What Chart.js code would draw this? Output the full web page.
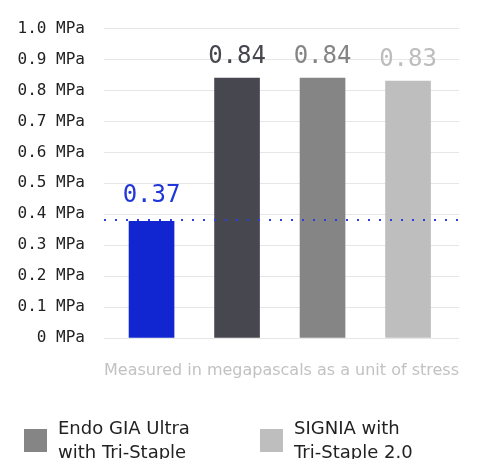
<!DOCTYPE html>
<html>
<head>
    <title>Staple line strength</title>
    <script src="https://cdn.jsdelivr.net/npm/chart.js"></script>
    <style>
        body { margin: 0; background: #fff; }
        #wrap { position: relative; width: 481px; height: 459px; overflow: hidden; }
        #legend { position: absolute; left: 0; top: 416px; width: 481px; }
        .item { position: absolute; top: 0; font-family: "DejaVu Sans", sans-serif; font-size: 18px; line-height: 24px; color: #222; }
        .item .box { position: absolute; left: 0; top: 13px; width: 23px; height: 23px; }
        .item .txt { position: absolute; left: 34px; top: 0; white-space: nowrap; }
    </style>
    <script>
        // bar values (MPa) and the labels printed above them
        const bars = [0, 1, 2, 3];
        const values = [0.377, 0.84, 0.84, 0.83];
        const valueLabels = ['0.37', '0.84', '0.84', '0.83'];
        const barColors = ['#1126d0', '#47474f', '#858585', '#bebebe'];
        const labelColors = ['#1f36d8', '#46464e', '#848484', '#bdbdbd'];
        const yTicks = [0, 0.1, 0.2, 0.3, 0.4, 0.5, 0.6, 0.7, 0.8, 0.9, 1.0];
        const threshold = 0.38;
        const caption = 'Measured in megapascals as a unit of stress';

        const legendNames = [['Endo GIA Ultra', 'with Tri-Staple'], ['SIGNIA with', 'Tri-Staple 2.0']];
        const legendColors = ['#858585', '#bebebe'];

        const extras = {
            id: 'extras',
            afterDatasetsDraw(chart) {
                const ctx = chart.ctx;
                const area = chart.chartArea;
                const y = chart.scales.y.getPixelForValue(threshold);
                ctx.save();
                ctx.strokeStyle = '#2a3fe0';
                ctx.lineWidth = 2;
                ctx.setLineDash([2, 9]);
                ctx.beginPath();
                ctx.moveTo(area.left, Math.round(y));
                ctx.lineTo(area.right + 4, Math.round(y));
                ctx.stroke();
                ctx.setLineDash([]);

                const meta = chart.getDatasetMeta(0);
                ctx.font = '24px "DejaVu Sans Mono"';
                ctx.textAlign = 'center';
                ctx.textBaseline = 'bottom';
                meta.data.forEach((bar, i) => {
                    const gap = i === 0 ? 14 : 9;
                    ctx.fillStyle = labelColors[i];
                    ctx.fillText(valueLabels[i], bar.x, bar.y - gap);
                });
                ctx.restore();
            }
        };

        document.addEventListener('DOMContentLoaded', function() {
            const ctx = document.getElementById('chart').getContext('2d');
            new Chart(ctx, {
                type: 'bar',
                data: {
                    datasets: [{
                        data: bars.map(i => ({ x: i, y: values[i] })),
                        backgroundColor: barColors,
                        barThickness: 45
                    }]
                },
                options: {
                    responsive: false,
                    animation: false,
                    layout: { padding: { top: 21, right: 22, bottom: 0, left: 0 } },
                    plugins: { legend: { display: false }, tooltip: { enabled: false } },
                    scales: {
                        x: {
                            type: 'linear',
                            offset: false,
                            min: -0.556,
                            max: 3.596,
                            grid: { display: false, offset: false },
                            border: { display: false },
                            ticks: { display: false },
                            title: {
                                display: true,
                                text: caption,
                                color: '#c2c2c2',
                                font: { family: 'DejaVu Sans', size: 16 },
                                padding: { top: 0, bottom: 79 }
                            },
                            afterFit(scale) { scale.height = 121; }
                        },
                        y: {
                            min: 0,
                            max: 1,
                            afterBuildTicks(scale) { scale.ticks = yTicks.map(v => ({ value: v })); },
                            grid: { color: '#e6e6e6', drawTicks: false },
                            border: { display: false },
                            ticks: {
                                padding: 19,
                                color: '#222',
                                font: { family: 'DejaVu Sans Mono', size: 16 },
                                callback: v => (v === 0 ? '0' : v.toFixed(1)) + ' MPa'
                            },
                            afterFit(scale) { scale.width = 104; }
                        }
                    }
                },
                plugins: [extras]
            });

            const legend = document.getElementById('legend');
            const lefts = [24, 260];
            legendNames.forEach((lines, i) => {
                const item = document.createElement('div');
                item.className = 'item';
                item.style.left = lefts[i] + 'px';
                item.innerHTML = '<div class="box" style="background:' + legendColors[i] + '"></div>' +
                    '<div class="txt">' + lines.join('<br>') + '</div>';
                legend.appendChild(item);
            });
        });
    </script>
</head>
<body>
<div id="wrap">
    <canvas id="chart" width="481" height="459"></canvas>
    <div id="legend"></div>
</div>
</body>
</html>
